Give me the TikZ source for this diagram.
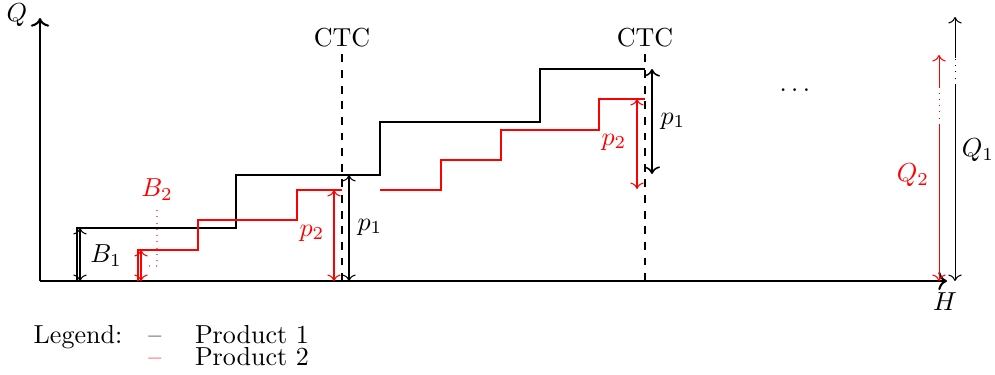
\documentclass[tikz,border=0pt]{standalone}
\usepackage{xcolor}
\usepackage{amsmath}
\usepackage{tikz}
\usetikzlibrary{arrows.meta, positioning, calc}

\begin{document}
\begin{tikzpicture}[x=1.35mm, y=1.35mm,
		prodone/.style={black},
		prodtwo/.style={red},
		dimarrow/.style={<->},
		ctcline/.style={dashed},
		legendtext/.style={anchor=base, inner sep=0pt}]
	\useasboundingbox (-4.0,-9.3) rectangle (95.5,28.1);
	% axes
	\coordinate (O) at (0,0);
	\draw[thick,->] (O) -- (0,26.3) coordinate (qtop);
	\draw[thick,->] (O) -- (90.7,0) coordinate (hend);
	\node (qlab) at (-2.3,26.6) {$Q$};
	\node (hlab) at (90.5,-2.1) {$H$};
	% CTC lines
	\draw[ctcline] (30.2,0) -- (30.2,22.8);
	\draw[ctcline] (60.5,0) -- (60.5,22.8);
	\node[anchor=base] (ctcone) at (30.2,23.4) {CTC};
	\node[anchor=base] (ctctwo) at (60.5,23.4) {CTC};
	% product 1
	\draw[prodone] (3.7,0) -- (3.7,5.3) -- (19.6,5.3) -- (19.6,10.6) -- (34,10.6)
		-- (34,15.9) -- (50,15.9) -- (50,21.2) -- (60.5,21.2);
	% product 2
	\draw[prodtwo] (9.8,0) -- (9.8,3.1) -- (15.8,3.1) -- (15.8,6.1) -- (25.7,6.1)
		-- (25.7,9.1) -- (30.2,9.1);
	\draw[prodtwo] (34,9.1) -- (40.1,9.1) -- (40.1,12.1) -- (46.1,12.1) -- (46.1,15.1)
		-- (55.9,15.1) -- (55.9,18.2) -- (60.5,18.2);
	% initial buffers
	\draw[dimarrow] (4.0,0) -- (4.0,5.3);
	\node (bone) at (6.6,2.5) {$B_1$};
	\draw[dimarrow, prodtwo] (10.1,0) -- (10.1,3.1);
	\node[prodtwo] (btwo) at (11.7,9.1) {$B_2$};
	\draw[red!60, dotted] (btwo.south) -- (11.7,1.5) -- (10.7,1.5);
	% first CTC
	\draw[dimarrow, prodtwo] (29.4,0) -- (29.4,9.1);
	\node[prodtwo] (ptwoa) at (27.2,4.8) {$p_2$};
	\draw[dimarrow] (30.9,0) -- (30.9,10.6);
	\node (ponea) at (33.0,5.4) {$p_1$};
	% second CTC
	\draw[dimarrow, prodtwo] (59.7,9.2) -- (59.7,18.2);
	\node[prodtwo] (ptwob) at (57.4,13.9) {$p_2$};
	\draw[dimarrow, semithick] (61.2,10.7) -- (61.2,21.2);
	\node (poneb) at (63.3,16.0) {$p_1$};
	\node (dots) at (75.7,19.1) {$\dots$};
	% totals
	\draw[prodtwo, ->] (89.9,19.3) -- (89.9,22.6);
	\draw[prodtwo, dotted] (89.9,15.6) -- (89.9,19.3);
	\draw[prodtwo, ->] (89.9,15.6) -- (89.9,0);
	\node[prodtwo] (qtwo) at (87.3,10.6) {$Q_2$};
	\draw[->] (91.5,22.3) -- (91.5,26.4);
	\draw[dotted] (91.5,19.6) -- (91.5,22.3);
	\draw[->] (91.5,19.6) -- (91.5,0);
	\node (qone) at (93.8,13.1) {$Q_1$};
	% legend
	\node[legendtext] (legend) at (3.8,-6.2) {Legend:};
	\node[legendtext] (dashone) at (11.5,-6.2) {--};
	\node[legendtext, prodtwo] (dashtwo) at (11.5,-8.4) {--};
	\node[legendtext] (prodonelab) at (21.2,-6.2) {Product 1};
	\node[legendtext] (prodtwolab) at (21.2,-8.4) {Product 2};
\end{tikzpicture}
\end{document}
